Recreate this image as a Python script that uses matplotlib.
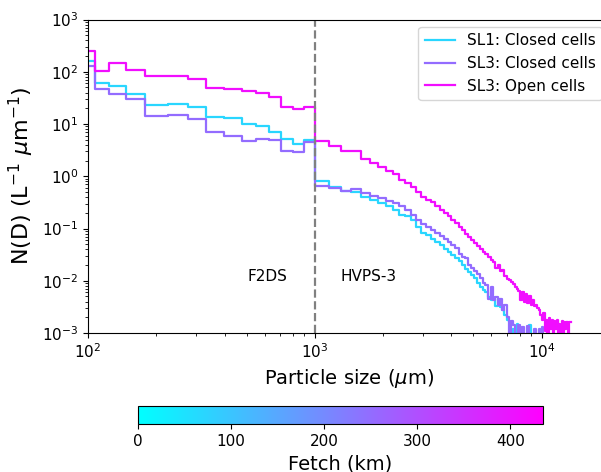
import numpy as np
import matplotlib
matplotlib.use("Agg")
import matplotlib.pyplot as plt
from matplotlib import cm, colors

# F2DS bins (um) and number concentrations (L-1 um-1)
f2ds_edges = [90, 107, 124, 147, 178, 226, 275, 330, 398, 475, 548, 627, 706, 798, 895, 1000]
sl1_closed_f2ds = [160, 60, 53.5, 37, 23.5, 24.5, 21.5, 13.5, 12.9, 10.2, 9.2, 7.0, 5.2, 4.1, 5.0]
sl3_closed_f2ds = [130, 47, 37.6, 29.8, 14.3, 14.9, 12.7, 6.9, 5.85, 4.8, 5.2, 4.9, 3.06, 2.97, 4.6]
sl3_open_f2ds = [253, 103, 149, 107, 83, 84, 73, 48, 47, 43, 39, 32.5, 21, 19.2, 21]

# HVPS-3 bins, 150 um wide starting at 1000 um
hvps_edges = np.arange(1000, 13451, 150)
sl1_closed_hvps = [0.82, 0.635, 0.526, 0.503, 0.404, 0.354, 0.306, 0.272, 0.228, 0.183,
                   0.175, 0.147, 0.109, 0.083, 0.0758, 0.0635, 0.0557, 0.0488, 0.0409, 0.0358,
                   0.0314, 0.0275, 0.0241, 0.0202, 0.0169, 0.0149, 0.0130, 0.0114, 0.0092, 0.0077,
                   0.0067, 0.0062, 0.0049, 0.0043, 0.0045, 0.0033, 0.0045, 0.0031, 0.0028, 0.0022,
                   0.0018, 0.0016, 0, 0.0012, 0, 0.0015, 0, 0, 0, 0,
                   0, 0, 0.0014, 0, 0, 0, 0, 0, 0, 0,
                   0, 0, 0, 0, 0, 0, 0, 0, 0, 0,
                   0, 0, 0, 0, 0, 0, 0, 0, 0, 0,
                   0, 0, 0]
sl3_closed_hvps = [0.655, 0.591, 0.526, 0.566, 0.475, 0.422, 0.381, 0.343, 0.306, 0.264,
                   0.228, 0.183, 0.147, 0.12, 0.105, 0.0925, 0.0809, 0.0710, 0.0621, 0.0557,
                   0.0488, 0.0418, 0.0328, 0.028, 0.0275, 0.0202, 0.0177, 0.0155, 0.0136, 0.0114,
                   0.0092, 0.0083, 0.0045, 0.0077, 0.0043, 0.0049, 0.0035, 0.0045, 0.0028, 0.0035,
                   0.0020, 0, 0.0017, 0.0014, 0, 0, 0.0014, 0, 0.0013, 0,
                   0, 0.00135, 0, 0, 0, 0.0012, 0, 0, 0.0012, 0,
                   0.0013, 0, 0, 0, 0, 0, 0, 0, 0, 0,
                   0, 0, 0, 0, 0, 0, 0, 0, 0, 0,
                   0, 0, 0]
sl3_open_hvps = [4.75, 3.81, 3.06, 3.06, 2.10, 1.77, 1.48, 1.27, 1.11, 0.853,
                 0.748, 0.627, 0.503, 0.404, 0.345, 0.315, 0.266, 0.228, 0.195, 0.171,
                 0.147, 0.126, 0.108, 0.0925, 0.080, 0.0694, 0.0608, 0.0533, 0.0471, 0.0409,
                 0.0358, 0.0321, 0.0288, 0.0252, 0.0231, 0.0177, 0.0202, 0.0155, 0.0162, 0.0125,
                 0.0109, 0.0104, 0.0094, 0.0087, 0.0077, 0.0070, 0.0064, 0.0042, 0.0062, 0.0040,
                 0.0057, 0.0038, 0.0051, 0.0035, 0.0043, 0.0033, 0.0034, 0.0030, 0.0027, 0.0022,
                 0.0018, 0.0024, 0.0011, 0.0018, 0, 0.0019, 0.0012, 0.0018, 0, 0.0017,
                 0.0012, 0.0018, 0, 0.0015, 0, 0.0017, 0, 0.0016, 0.0012, 0.0016,
                 0, 0.0016, 0.0016]

labels = ['SL1: Closed cells', 'SL3: Closed cells', 'SL3: Open cells']
fetch = [70, 250, 410]
fetch_max = 435

fig = plt.figure(figsize=(6.01, 4.72), dpi=100)
ax = fig.add_axes([88/601, 139/472, 522/601, 313.5/472])

cmap = plt.get_cmap('cool')
norm = colors.Normalize(vmin=0, vmax=fetch_max)

edges = list(f2ds_edges) + list(hvps_edges[1:])
series = [sl1_closed_f2ds + sl1_closed_hvps,
          sl3_closed_f2ds + sl3_closed_hvps,
          sl3_open_f2ds + sl3_open_hvps]

for vals, lab, fe in zip(series, labels, fetch):
    y = list(vals) + [vals[-1]]
    ax.step(edges, y, where='post', color=cmap(norm(fe)), lw=1.6, label=lab)

ax.axvline(1000, color='gray', ls='--', lw=1.6)
ax.text(620, 0.012, 'F2DS', ha='center', va='center', fontsize=11)
ax.text(1730, 0.012, 'HVPS-3', ha='center', va='center', fontsize=11)

ax.set_xscale('log')
ax.set_yscale('log')
ax.set_xlim(100, 2e4)
ax.set_ylim(1e-3, 1e3)
ax.set_xlabel(r'Particle size ($\mu$m)', fontsize=14)
ax.set_ylabel(r'N(D) (L$^{-1}$ $\mu$m$^{-1}$)', fontsize=16)
ax.tick_params(labelsize=11)
ax.legend(loc='upper right', fontsize=11)

cax = fig.add_axes([138/601, 48/472, 405/601, 18/472])
sm = cm.ScalarMappable(norm=norm, cmap=cmap)
cb = fig.colorbar(sm, cax=cax, orientation='horizontal')
cb.set_ticks([0, 100, 200, 300, 400])
cb.ax.tick_params(labelsize=11)
cb.set_label('Fetch (km)', fontsize=14)

fig.savefig('out.png', dpi=100)
